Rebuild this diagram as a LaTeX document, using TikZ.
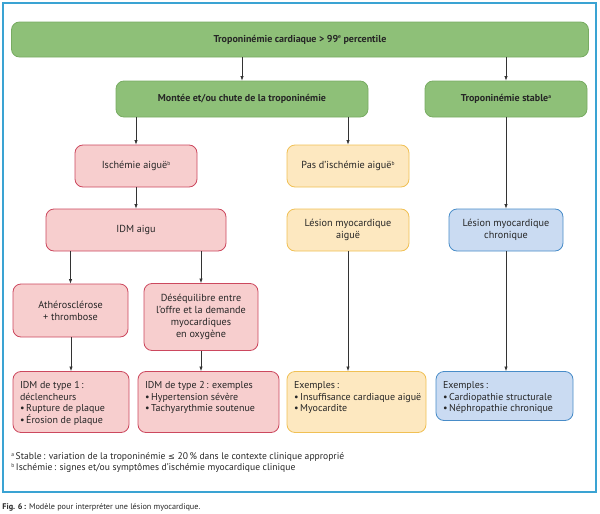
\documentclass[tikz,border=0pt]{standalone}
\usepackage{fontspec}
\setmainfont{PT Sans}
\newfontfamily\symfont{DejaVu Sans}
\usetikzlibrary{arrows.meta}
\definecolor{framecol}{RGB}{58,163,211}
\definecolor{grnfill}{RGB}{142,192,120}
\definecolor{grnline}{RGB}{120,172,98}
\definecolor{pnkfill}{RGB}{247,206,206}
\definecolor{pnkline}{RGB}{204,72,94}
\definecolor{yelfill}{RGB}{253,232,192}
\definecolor{yelline}{RGB}{240,192,84}
\definecolor{blufill}{RGB}{202,219,242}
\definecolor{bluline}{RGB}{72,140,200}
\newcommand{\boxtext}[3]{\parbox[c][#1][t]{#2}{\raggedright\vspace*{5pt}#3}}
\newcommand{\sups}[1]{\raisebox{3.2pt}{\fontsize{5.5}{6}\selectfont #1}}
\begin{document}
\begin{tikzpicture}
        [x=1pt,y=-1pt,every node/.style={draw, rounded corners=8pt, line width=0.8pt, inner sep=0pt, align=center, text=black!85, font=\fontsize{10.2}{12}\selectfont},
        grn/.style={fill=grnfill, draw=grnline, font=\fontsize{10}{12}\selectfont\bfseries},
        pnk/.style={fill=pnkfill, draw=pnkline},
        yel/.style={fill=yelfill, draw=yelline},
        blu/.style={fill=blufill, draw=bluline},
        listbox/.style={inner xsep=7pt, inner ysep=5pt, font=\fontsize{10}{11.6}\selectfont},
        arr/.style={-{Latex[length=4.5pt,width=3.4pt]}, line width=0.7pt, draw=black!80}]
      \useasboundingbox (0,0) rectangle (600,514);
      \draw[framecol, line width=1.2pt] (3,3) rectangle (596,492);

      \node[grn, minimum width=577pt, minimum height=35pt] (n0) at (300,39.5) {Troponinémie cardiaque > 99\sups{e} percentile};
      \node[grn, minimum width=252pt, minimum height=36pt] (n1) at (242,99) {Montée et/ou chute de la troponinémie};
      \node[grn, minimum width=162pt, minimum height=36pt] (n2) at (506,99) {Troponinémie stable\sups{a}};
      \node[pnk, minimum width=122pt, minimum height=42pt] (n3) at (136,166) {Ischémie aiguë\sups{b}};
      \node[yel, minimum width=122pt, minimum height=42pt] (n4) at (348,166) {Pas d’ischémie aiguë\sups{b}};
      \node[pnk, minimum width=180pt, minimum height=42pt] (n5) at (136,230) {IDM aigu};
      \node[yel, minimum width=122pt, minimum height=42pt] (n6) at (348,230) {Lésion myocardique\\aiguë};
      \node[blu, minimum width=114pt, minimum height=42pt] (n7) at (506,230) {Lésion myocardique\\chronique};
      \node[pnk, minimum width=115pt, minimum height=53pt] (n8) at (70.5,310.5) {Athérosclérose\\+ thrombose};
      \node[pnk, minimum width=114pt, minimum height=67pt] (n9) at (201,317) {Déséquilibre entre\\l’offre et la demande\\myocardiques\\en oxygène};
      \node[pnk, listbox] (n10) at (71,402) {\boxtext{51pt}{102pt}{IDM de type 1\,:\\déclencheurs\\\textbullet\,Rupture de plaque\\\textbullet\,Érosion de plaque}};
      \node[pnk, listbox] (n11) at (208.5,402) {\boxtext{51pt}{127pt}{IDM de type 2\,: exemples\\\textbullet\,Hypertension sévère\\\textbullet\,Tachyarythmie soutenue}};
      \node[yel, listbox] (n12) at (356.5,402) {\boxtext{51pt}{125pt}{Exemples\,:\\\textbullet\,\mbox{Insuffisance cardiaque aiguë}\\\textbullet\,Myocardite}};
      \node[blu, listbox] (n13) at (504.5,396) {\boxtext{39pt}{123pt}{Exemples\,:\\\textbullet\,Cardiopathie structurale\\\textbullet\,Néphropathie chronique}};

      % arrows straight down onto the box below
      \foreach \from/\to in {n0/n1, n0/n2, n1/n3, n1/n4, n2/n7, n3/n5, n5/n8, n5/n9, n8/n10}
        \draw[arr] (\from.south -| \to) -- (\to);
      \foreach \from/\to in {n9/n11, n6/n12, n7/n13}
        \draw[arr] (\from) -- (\from.south |- \to.north);

      \node[draw=none, anchor=north west, align=left, font=\fontsize{9.6}{11.5}\selectfont] (notes) at (11,452) {\sups{a}\,Stable\,: variation de la troponinémie {\symfont\fontsize{8.2}{10}\selectfont ≤} 20\,\% dans le contexte clinique approprié\\\sups{b}\,Ischémie\,: signes et/ou symptômes d’ischémie myocardique clinique};
      \node[draw=none, anchor=west, font=\fontsize{8.2}{9}\selectfont] (caption) at (2,507) {\textbf{Fig. 6\,:} Modèle pour interpréter une lésion myocardique.};
    \end{tikzpicture}
\end{document}
